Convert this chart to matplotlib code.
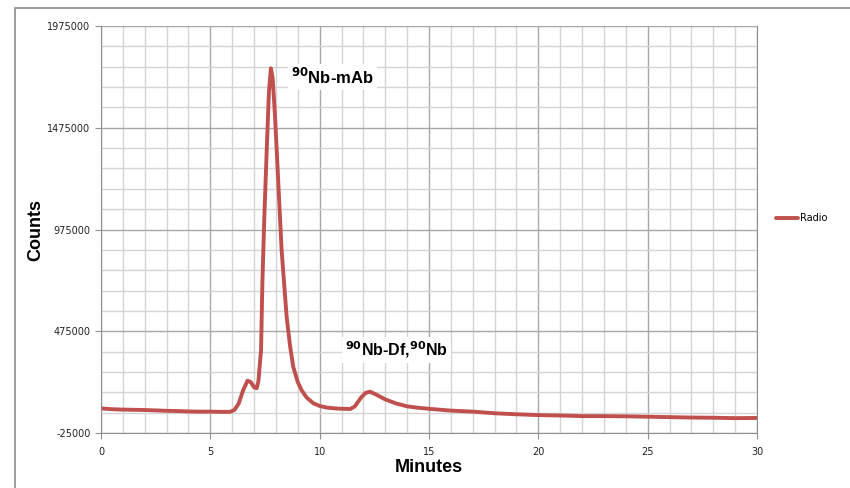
import matplotlib.pyplot as plt
from matplotlib.patches import Rectangle
from matplotlib.ticker import MultipleLocator, FixedLocator

# chromatogram
minutes = [0, 0.5, 1, 1.5, 2, 2.5, 3, 3.5, 4, 4.5, 5, 5.5, 5.9, 6.1, 6.3, 6.5, 6.7, 6.85,
           7.0, 7.12, 7.2, 7.32, 7.38, 7.47, 7.58, 7.68, 7.77, 7.85, 7.96, 8.11, 8.26,
           8.49, 8.65, 8.79, 9.0, 9.17, 9.4, 9.71, 10.0, 10.32, 10.7, 11.0, 11.4, 11.6,
           11.9, 12.1, 12.3, 12.6, 13.0, 13.5, 14.0, 14.5, 15.0, 16, 17, 18, 19, 20, 21,
           22, 23, 24, 25, 26, 27, 28, 29, 30]
counts = [96000, 92000, 90000, 89000, 88000, 86000, 84000, 83000, 81000, 80000, 80000,
          79000, 79000, 88000, 120000, 185000, 232000, 225000, 200000, 195000, 230000,
          383000, 711000, 1038000, 1366000, 1650000, 1767000, 1720000, 1529000, 1202000,
          874000, 546000, 400000, 301000, 225000, 186000, 150000, 121000, 108000, 100000,
          96000, 94000, 93000, 105000, 150000, 172000, 178000, 163000, 140000, 120000,
          106000, 99000, 94000, 85000, 80000, 72000, 67000, 63000, 61000, 58000, 58000,
          57000, 55000, 53000, 51000, 50000, 48000, 49000]

y_ticks = [-25000, 475000, 975000, 1475000, 1975000]

fig = plt.figure(figsize=(8.5, 4.88), dpi=100)
ax = fig.add_axes([0.1188, 0.1127, 0.7718, 0.834])

# outer chart border
fig.patches.append(Rectangle((15 / 850, -0.1), 1.0, 1 - 8 / 488 + 0.1, transform=fig.transFigure,
                             fill=False, edgecolor='#8c8c8c', lw=1.2))

ax.plot(minutes, counts, color='#C0504D', lw=2.8, label='Radio',
        solid_capstyle='round', solid_joinstyle='round')

ax.set_xlim(0, 30)
ax.set_ylim(-25000, 1975000)
ax.xaxis.set_major_locator(MultipleLocator(5))
ax.xaxis.set_minor_locator(MultipleLocator(1))
ax.yaxis.set_major_locator(FixedLocator(y_ticks))
ax.yaxis.set_minor_locator(FixedLocator([-25000 + 100000 * i for i in range(21)]))
ax.set_yticklabels([str(v) for v in y_ticks])

ax.grid(which='minor', color='#d4d4d4', lw=1.0)
ax.grid(which='major', color='#a8a8a8', lw=1.0)
ax.set_axisbelow(True)
ax.spines['top'].set_visible(False)
for s in ['left', 'bottom', 'right']:
    ax.spines[s].set_color('#909090')
ax.tick_params(which='major', length=4, color='#909090', labelsize=7, labelcolor='#222222')
ax.tick_params(which='minor', length=0)
ax.tick_params(axis='x', pad=6)

ax.set_xlabel('Minutes', fontsize=13, fontweight='bold', family='Liberation Sans')
ax.set_ylabel('Counts', fontsize=13, fontweight='bold', family='Liberation Sans')
ax.xaxis.set_label_coords(0.5, -0.064)
ax.yaxis.set_label_coords(-0.086, 0.5)

box = dict(facecolor='white', edgecolor='none', pad=2)
ax.text(8.7, 1724000, r'$^{\mathbf{90}}$Nb-mAb', fontsize=12, fontweight='bold',
        family='Liberation Sans', va='center', ha='left', bbox=box)
ax.text(11.15, 383000, r'$^{\mathbf{90}}$Nb-Df,$^{\mathbf{90}}$Nb', fontsize=11.5,
        fontweight='bold', family='Liberation Sans', va='center', ha='left', bbox=box)

fig.legend(loc='center left', bbox_to_anchor=(0.903, 1 - 218 / 488), frameon=False,
           fontsize=7, handlelength=2.2, handletextpad=0.2)

fig.savefig('out.png', dpi=100)
